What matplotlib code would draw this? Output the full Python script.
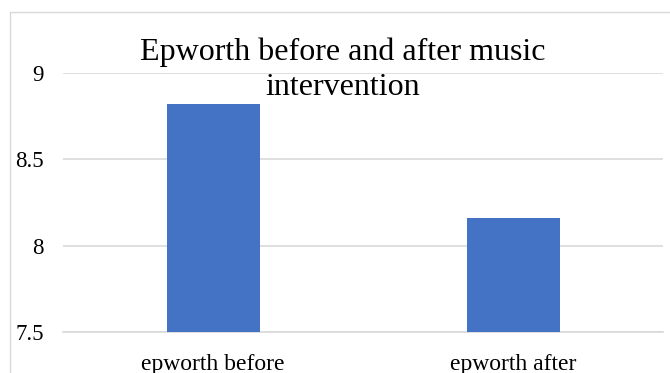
import matplotlib.pyplot as plt
from matplotlib.patches import Rectangle

categories = ["epworth before", "epworth after"]
scores = [8.82, 8.16]
y_ticks = [7.5, 8, 8.5, 9]
y_tick_labels = ["7.5", "8", "8.5", "9"]
title_lines = ["Epworth before and after music", "intervention"]

plt.rcParams["font.family"] = ["Liberation Serif", "DejaVu Serif"]

W, H = 670, 373
fig = plt.figure(figsize=(W / 100, H / 100), dpi=100)
ax = fig.add_axes([63 / W, 1 - 332 / H, 600 / W, 259 / H])

# outer chart frame (Excel-style), cut off at right/bottom
fig.patches.append(Rectangle((10 / W, -0.1), 1.0, (H - 12) / H + 0.1,
                             transform=fig.transFigure, fill=False,
                             edgecolor="#d9d9d9", linewidth=1.0))

x = range(len(categories))
ax.bar(x, scores, width=0.31, color="#4472c4", zorder=3)

ax.set_xlim(-0.5, 1.5)
ax.set_ylim(7.5, 9)
ax.set_yticks(y_ticks)
ax.set_yticklabels(y_tick_labels)
ax.set_xticks(list(x))
ax.set_xticklabels(categories)
ax.tick_params(axis="y", length=0, pad=14, labelsize=16.5, labelcolor="black")
ax.tick_params(axis="x", length=0, pad=15.5, labelsize=17, labelcolor="black")

ax.grid(axis="y", color="#d9d9d9", linewidth=1.2, zorder=0)
ax.set_axisbelow(True)
for side in ["top", "right", "left"]:
    ax.spines[side].set_visible(False)
ax.spines["bottom"].set_color("#d9d9d9")
ax.spines["bottom"].set_linewidth(1.2)

# two-line title overlapping the plot area, as in the original
for line, y_px in zip(title_lines, [60, 95]):
    fig.text(343 / W, 1 - y_px / H, line, ha="center", va="baseline",
             fontsize=23, color="black", zorder=5)

plt.savefig("out.png", dpi=100)
